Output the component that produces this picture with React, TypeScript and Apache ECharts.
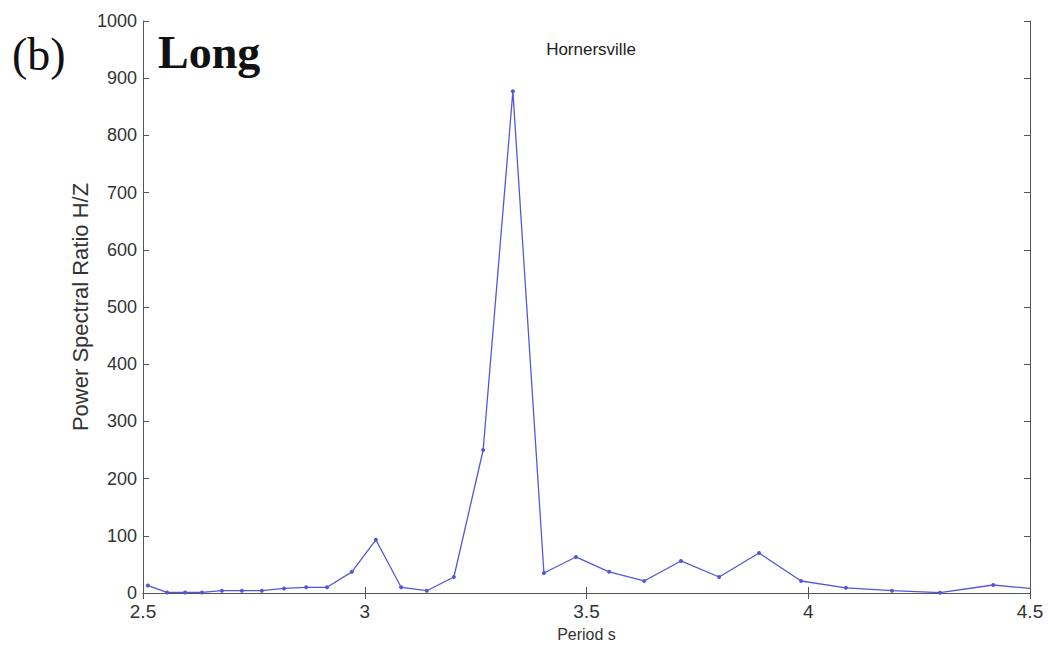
import React, { useEffect, useRef } from "react";
import * as echarts from "echarts";

// Period (s) of each spectral estimate and the H/Z power spectral ratio there
const periods = [
  2.511, 2.554, 2.595, 2.633, 2.678, 2.723, 2.768, 2.818, 2.868, 2.915,
  2.971, 3.025, 3.082, 3.14, 3.201, 3.267, 3.334, 3.404, 3.476, 3.551,
  3.63, 3.713, 3.799, 3.889, 3.984, 4.085, 4.189, 4.297, 4.417, 4.5,
];
const ratios = [
  13, 1, 1, 1, 4, 4, 4, 8, 10, 10,
  37, 93, 10, 4, 28, 250, 877, 35, 63, 37,
  21, 56, 28, 70, 21, 9, 4, 0.5, 14, 8,
];

const xTicks = [2.5, 3, 3.5, 4, 4.5];
const yMax = 1000;
const yStep = 100;

const stationName = "Hornersville";
const panelLabel = "(b)";
const bandLabel = "Long";
const xName = "Period s";
const yName = "Power Spectral Ratio H/Z";

const FONT = "'Liberation Sans', Arial, sans-serif";
const SERIF = "'Liberation Serif', 'Times New Roman', serif";
const AXIS = "#555";
const TEXT = "#333";
const LINE = "#5656dd";

export default function App() {
  const ref = useRef<HTMLDivElement>(null);

  useEffect(() => {
    if (!ref.current) return;
    const chart = echarts.init(ref.current, undefined, { renderer: "svg" });

    const data = periods.map((p, i) =>
      i === periods.length - 1
        ? { value: [p, ratios[i]], symbol: "none" }
        : { value: [p, ratios[i]] }
    );

    const xCommon = {
      type: "value" as const,
      min: xTicks[0],
      max: xTicks[xTicks.length - 1],
      interval: 0.5,
      splitLine: { show: false },
      axisLine: { show: true, lineStyle: { color: AXIS, width: 1 } },
      axisTick: { show: true, inside: true, length: 6, lineStyle: { color: AXIS } },
    };
    const yCommon = {
      type: "value" as const,
      min: 0,
      max: yMax,
      interval: yStep,
      splitLine: { show: false },
      axisLine: { show: true, lineStyle: { color: AXIS, width: 1 } },
      axisTick: { show: true, inside: true, length: 6, lineStyle: { color: AXIS } },
    };

    chart.setOption({
      animation: false,
      backgroundColor: "#fff",
      title: {
        text: stationName,
        left: 586,
        top: 36,
        textAlign: "center",
        textStyle: { fontFamily: FONT, fontSize: 17, fontWeight: "normal", color: "#222" },
      },
      grid: { left: 143, right: 18, top: 21, bottom: 57, show: false },
      xAxis: [
        {
          ...xCommon,
          position: "bottom",
          name: xName,
          nameLocation: "middle",
          nameGap: 33,
          nameTextStyle: { fontFamily: FONT, fontSize: 16, color: TEXT },
          axisLabel: {
            fontFamily: FONT,
            fontSize: 19,
            color: TEXT,
            margin: 9,
            formatter: (v: number) => String(v),
          },
        },
        { ...xCommon, position: "top", axisLabel: { show: false } },
      ],
      yAxis: [
        {
          ...yCommon,
          position: "left",
          name: yName,
          nameLocation: "middle",
          nameGap: 52,
          nameMoveOverlap: false,
          nameTextStyle: { fontFamily: FONT, fontSize: 22, color: TEXT },
          axisLabel: {
            fontFamily: FONT,
            fontSize: 18,
            color: TEXT,
            margin: 6,
            formatter: (v: number) => String(v),
          },
        },
        { ...yCommon, position: "right", axisLabel: { show: false } },
      ],
      series: [
        {
          type: "line",
          data,
          symbol: "circle",
          symbolSize: 4,
          lineStyle: { color: LINE, width: 1.3 },
          itemStyle: { color: LINE },
          clip: true,
        },
      ],
      graphic: [
        {
          type: "text",
          left: 12,
          top: 31,
          style: { text: panelLabel, font: `46px ${SERIF}`, fill: "#111" },
        },
        {
          type: "text",
          left: 158,
          top: 29,
          style: { text: bandLabel, font: `bold 46px ${SERIF}`, fill: "#111" },
        },
      ],
    });

    return () => chart.dispose();
  }, []);

  return (
    <div
      ref={ref}
      style={{ position: "fixed", left: 0, top: 0, width: 1048, height: 650 }}
    />
  );
}
